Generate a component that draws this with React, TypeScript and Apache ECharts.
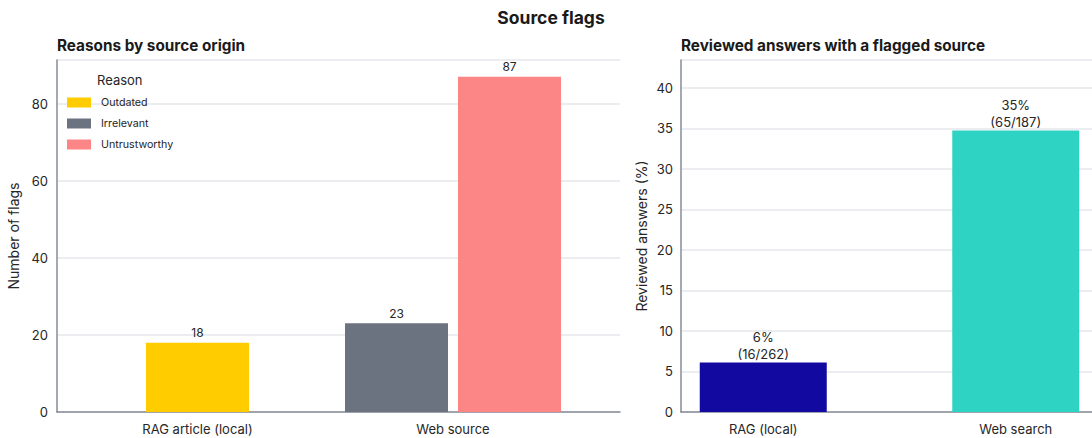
import React, { useEffect, useRef } from "react";
import * as echarts from "echarts";

const leftCategories = ["RAG article (local)", "Web source"];
const outdatedValues = [18, "-"];
const irrelevantValues = ["-", 23];
const untrustworthyValues = ["-", 87];
const leftTicks = [0, 20, 40, 60, 80];

const rightCategories = ["RAG (local)", "Web search"];
const flaggedCounts = [16, 65];
const reviewedTotals = [262, 187];
const rightColors = ["#120AA0", "#2ED3C3"];

const FONT = "Inter, 'Noto Sans', sans-serif";
const AXIS_COLOR = "#868b98";
const GRID_COLOR = "#e6e7ec";
const TEXT = "#262626";

export default function App() {
  const ref = useRef<HTMLDivElement>(null);
  useEffect(() => {
    document.body.style.margin = "0";
    const chart = echarts.init(ref.current!, undefined, { renderer: "svg" });
    const pct = flaggedCounts.map((c, i) => (c / reviewedTotals[i]) * 100);
    const leftMax = 87 * 1.05;
    const rightMax = Math.max(...pct) * 1.25;

    const visibleX = (gridIndex: number) => ({
      type: "value",
      gridIndex,
      min: 0,
      max: 1,
      axisLine: { show: true, lineStyle: { color: AXIS_COLOR, width: 1.5 } },
      axisTick: { show: false },
      axisLabel: { show: false },
      splitLine: { show: false },
    });

    const option: any = {
      animation: false,
      backgroundColor: "#ffffff",
      textStyle: { fontFamily: FONT },
      title: [
        {
          text: "Source flags",
          left: 551,
          textAlign: "center",
          top: 8,
          padding: 0,
          textStyle: { fontSize: 17.5, fontWeight: "bold", color: "#1a1a1a", fontFamily: FONT },
        },
        {
          text: "Reasons by source origin",
          left: 57,
          top: 38,
          padding: 0,
          textStyle: { fontSize: 15.3, fontWeight: "bold", color: "#1a1a1a", fontFamily: FONT },
        },
        {
          text: "Reviewed answers with a flagged source",
          left: 681,
          top: 38,
          padding: 0,
          textStyle: { fontSize: 15.3, fontWeight: "bold", color: "#1a1a1a", fontFamily: FONT },
        },
      ],
      legend: {
        data: ["Outdated", "Irrelevant", "Untrustworthy"],
        orient: "vertical",
        left: 67,
        top: 96,
        padding: 0,
        itemWidth: 24,
        itemHeight: 10,
        itemGap: 8,
        icon: "rect",
        textStyle: { fontSize: 10.7, lineHeight: 13, color: TEXT, fontFamily: FONT, padding: [0, 0, 0, 5] },
      },
      graphic: [
        {
          type: "text",
          left: 97,
          top: 73,
          style: { text: "Reason", fontSize: 13, fill: TEXT, fontFamily: FONT },
        },
      ],
      grid: [
        { left: 57, right: 472, top: 60, bottom: 26, outerBoundsMode: "none", containLabel: false },
        { left: 69.75, right: 511.25, top: 60, bottom: 26, outerBoundsMode: "none", containLabel: false },
        { left: 681, right: 0, top: 60, bottom: 26, outerBoundsMode: "none", containLabel: false },
        { left: 637, width: 505, top: 60, bottom: 26, outerBoundsMode: "none", containLabel: false },
      ],
      xAxis: [
        visibleX(0),
        {
          type: "category",
          gridIndex: 1,
          data: leftCategories,
          axisLine: { show: false },
          axisTick: { show: false },
          axisLabel: { fontSize: 13, color: TEXT, margin: 10, fontFamily: FONT },
        },
        {
          type: "category",
          gridIndex: 1,
          data: leftCategories,
          show: false,
        },
        visibleX(2),
        {
          type: "category",
          gridIndex: 3,
          data: rightCategories,
          axisLine: { show: false },
          axisTick: { show: false },
          axisLabel: { fontSize: 13, color: TEXT, margin: 10, fontFamily: FONT },
        },
      ],
      yAxis: [
        {
          type: "value",
          gridIndex: 0,
          min: leftTicks[0],
          max: leftMax,
          interval: leftTicks[1] - leftTicks[0],
          name: "Number of flags",
          nameLocation: "middle",
          nameGap: 35,
          nameTextStyle: { fontSize: 14, color: TEXT, fontFamily: FONT },
          axisLine: { show: true, lineStyle: { color: AXIS_COLOR, width: 1.5 } },
          axisTick: { show: false },
          axisLabel: {
            fontSize: 13,
            color: TEXT,
            margin: 9,
            fontFamily: FONT,
            formatter: (v: number) => (leftTicks.includes(v) ? String(v) : ""),
          },
          splitLine: { show: true, lineStyle: { color: GRID_COLOR, width: 1.5 } },
        },
        { type: "value", gridIndex: 1, min: 0, max: leftMax, show: false },
        {
          type: "value",
          gridIndex: 2,
          min: 0,
          max: rightMax,
          interval: 5,
          name: "Reviewed answers (%)",
          nameLocation: "middle",
          nameGap: 33,
          nameTextStyle: { fontSize: 14, color: TEXT, fontFamily: FONT },
          axisLine: { show: true, lineStyle: { color: AXIS_COLOR, width: 1.5 } },
          axisTick: { show: false },
          axisLabel: {
            fontSize: 13,
            color: TEXT,
            margin: 8,
            fontFamily: FONT,
            formatter: (v: number) => (v % 5 === 0 && v <= 40 ? String(v) : ""),
          },
          splitLine: { show: true, lineStyle: { color: GRID_COLOR, width: 1.5 } },
        },
        { type: "value", gridIndex: 3, min: 0, max: rightMax, show: false },
      ],
      series: [
        {
          name: "Outdated",
          type: "bar",
          xAxisIndex: 1,
          yAxisIndex: 1,
          data: outdatedValues,
          barWidth: 103,
          itemStyle: { color: "#FFCC00" },
          label: { show: true, position: "top", distance: 4, fontSize: 12, color: TEXT, fontFamily: FONT },
        },
        {
          name: "Irrelevant",
          type: "bar",
          xAxisIndex: 2,
          yAxisIndex: 1,
          data: irrelevantValues,
          barWidth: 103,
          barGap: "9.7%",
          itemStyle: { color: "#6B7280" },
          label: { show: true, position: "top", distance: 4, fontSize: 12, color: TEXT, fontFamily: FONT },
        },
        {
          name: "Untrustworthy",
          type: "bar",
          xAxisIndex: 2,
          yAxisIndex: 1,
          data: untrustworthyValues,
          barWidth: 103,
          barGap: "9.7%",
          itemStyle: { color: "#FC8585" },
          label: { show: true, position: "top", distance: 4, fontSize: 12, color: TEXT, fontFamily: FONT },
        },
        {
          name: "Share",
          type: "bar",
          xAxisIndex: 4,
          yAxisIndex: 3,
          barWidth: 127,
          data: pct.map((v, i) => ({ value: v, itemStyle: { color: rightColors[i] } })),
          label: {
            show: true,
            position: "top",
            distance: 0,
            fontSize: 13,
            lineHeight: 17,
            color: TEXT,
            fontFamily: FONT,
            formatter: (p: any) =>
              `${Math.round(p.value)}%\n(${flaggedCounts[p.dataIndex]}/${reviewedTotals[p.dataIndex]})`,
          },
        },
      ],
    };
    chart.setOption(option);
    return () => chart.dispose();
  }, []);
  return <div ref={ref} style={{ width: 1092, height: 438 }} />;
}
